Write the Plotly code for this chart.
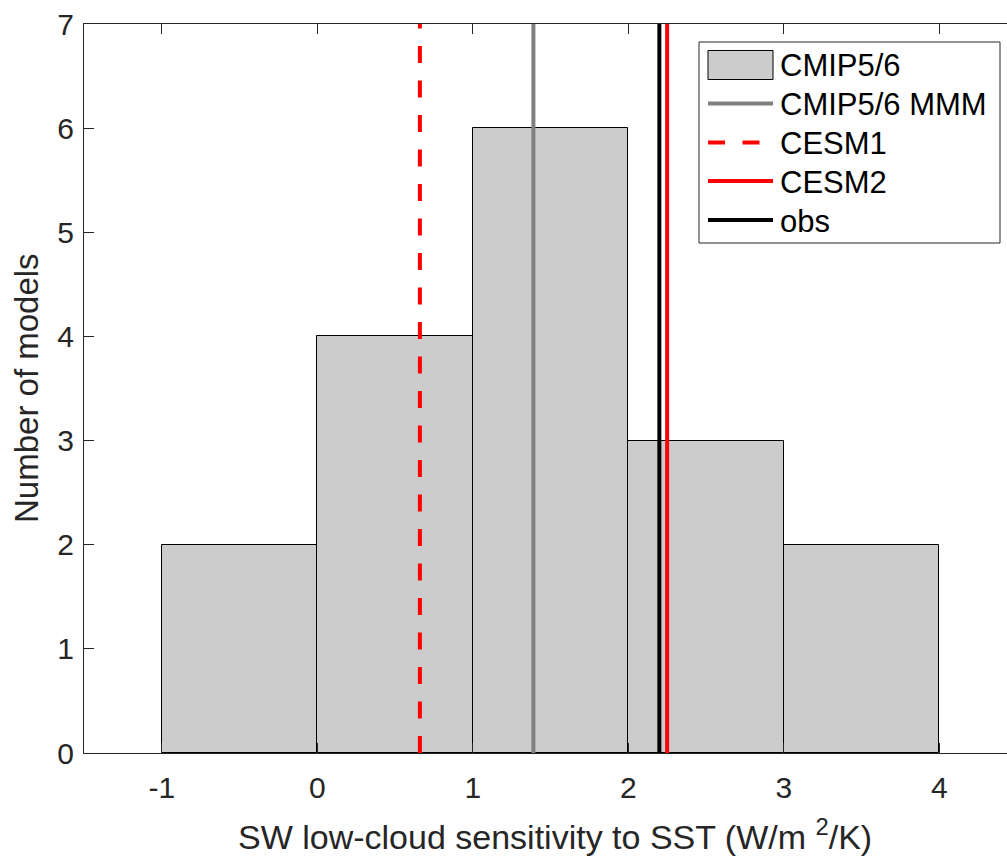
import plotly.graph_objects as go

# ---- data ----
bin_edges = [-1, 0, 1, 2, 3, 4]
counts = [2, 4, 6, 3, 2]
mmm_value = 1.39      # CMIP5/6 MMM
cesm1_value = 0.66    # CESM1
cesm2_value = 2.25    # CESM2
obs_value = 2.20      # obs
x_ticks = [-1, 0, 1, 2, 3, 4]
y_ticks = [0, 1, 2, 3, 4, 5, 6, 7]
legend_labels = ["CMIP5/6", "CMIP5/6 MMM", "CESM1", "CESM2", "obs"]

W, H = 1007, 859
L, R, T, B = 84, 0, 24, 106
pw, ph = W - L - R, H - T - B
x0r = -1.5
ppu = 155.5
x_range = [x0r, x0r + pw / ppu]
y_range = [0, 7]

FONT = "Liberation Sans, Arial, Helvetica, sans-serif"
TXT = "#262626"
TICK_SIZE = 30
TITLE_SIZE = 33
LEG_SIZE = 31

def px(xp):
    return (xp - L) / pw

def py(yp):
    return (H - B - yp) / ph

centers = [(bin_edges[i] + bin_edges[i + 1]) / 2 for i in range(len(counts))]
widths = [bin_edges[i + 1] - bin_edges[i] for i in range(len(counts))]

fig = go.Figure()
fig.add_trace(go.Bar(x=centers, y=counts, width=widths,
                     marker=dict(color="#cccccc", line=dict(color="#000000", width=1)),
                     name=legend_labels[0], showlegend=False))

lines = [
    (mmm_value, "#808080", "solid", 4, legend_labels[1]),
    (cesm1_value, "#ff0000", "17px,17.5px", 4, legend_labels[2]),
    (cesm2_value, "#ff0000", "solid", 4, legend_labels[3]),
    (obs_value, "#000000", "solid", 4, legend_labels[4]),
]
for v, c, d, w, n in lines:
    fig.add_trace(go.Scatter(x=[v, v], y=[y_range[0], y_range[1]], mode="lines",
                             line=dict(color=c, dash=d, width=w), name=n,
                             showlegend=False, cliponaxis=True))

shapes = []
annotations = []
# legend frame
shapes.append(dict(type="rect", xref="paper", yref="paper",
                   x0=px(699), x1=px(1000), y0=py(243), y1=py(42),
                   line=dict(color=TXT, width=1), fillcolor="white", layer="above"))
rows = [65, 103.5, 142.5, 181, 220]
sx0, sx1 = 708, 773
# bar symbol
shapes.append(dict(type="rect", xref="paper", yref="paper",
                   x0=px(sx0), x1=px(sx1), y0=py(rows[0] + 14.5), y1=py(rows[0] - 14.5),
                   line=dict(color="#000000", width=1), fillcolor="#cccccc", layer="above"))
for (v, c, d, w, n), yy in zip(lines, rows[1:]):
    dash = "17px,17.5px" if d != "solid" else "solid"
    shapes.append(dict(type="line", xref="paper", yref="paper",
                       x0=px(sx0), x1=px(sx1), y0=py(yy), y1=py(yy),
                       line=dict(color=c, width=w, dash=dash), layer="above"))
for lab, yy in zip(legend_labels, rows):
    annotations.append(dict(text=lab, xref="paper", yref="paper", x=px(778), y=py(yy + 1),
                            xanchor="left", yanchor="middle", showarrow=False,
                            font=dict(family=FONT, size=LEG_SIZE, color="#000000")))

# axis titles
annotations.append(dict(text="SW low-cloud sensitivity to SST (W/m <sup>2</sup>/K)",
                        xref="paper", yref="paper", x=px(555), y=py(834),
                        xanchor="center", yanchor="middle", showarrow=False,
                        font=dict(family=FONT, size=34, color=TXT)))
annotations.append(dict(text="Number of models", xref="paper", yref="paper",
                        x=px(26), y=py(388), xanchor="center", yanchor="middle",
                        textangle=-90, showarrow=False,
                        font=dict(family=FONT, size=TITLE_SIZE, color=TXT)))

fig.update_layout(
    width=W, height=H, margin=dict(l=L, r=R, t=T, b=B, pad=0),
    plot_bgcolor="white", paper_bgcolor="white",
    shapes=shapes, annotations=annotations, showlegend=False, bargap=0,
    font=dict(family=FONT, size=TICK_SIZE, color=TXT),
)
fig.update_xaxes(range=x_range, tickvals=x_ticks, ticktext=[str(t) for t in x_ticks],
                 ticks="inside", ticklen=10, tickwidth=1, tickcolor=TXT,
                 showline=True, linecolor=TXT, linewidth=1, mirror="ticks",
                 showgrid=False, zeroline=False, ticklabelstandoff=8,
                 tickfont=dict(family=FONT, size=TICK_SIZE, color=TXT))
fig.update_yaxes(range=y_range, tickvals=y_ticks, ticktext=[str(t) for t in y_ticks],
                 ticks="inside", ticklen=10, tickwidth=1, tickcolor=TXT,
                 showline=True, linecolor=TXT, linewidth=1, mirror=False,
                 showgrid=False, zeroline=False, ticklabelstandoff=3,
                 tickfont=dict(family=FONT, size=TICK_SIZE, color=TXT))

fig.write_html("out.html", config={"displayModeBar": False},
               post_script="document.body.style.margin='0';document.body.style.padding='0';document.body.style.overflow='hidden';")
